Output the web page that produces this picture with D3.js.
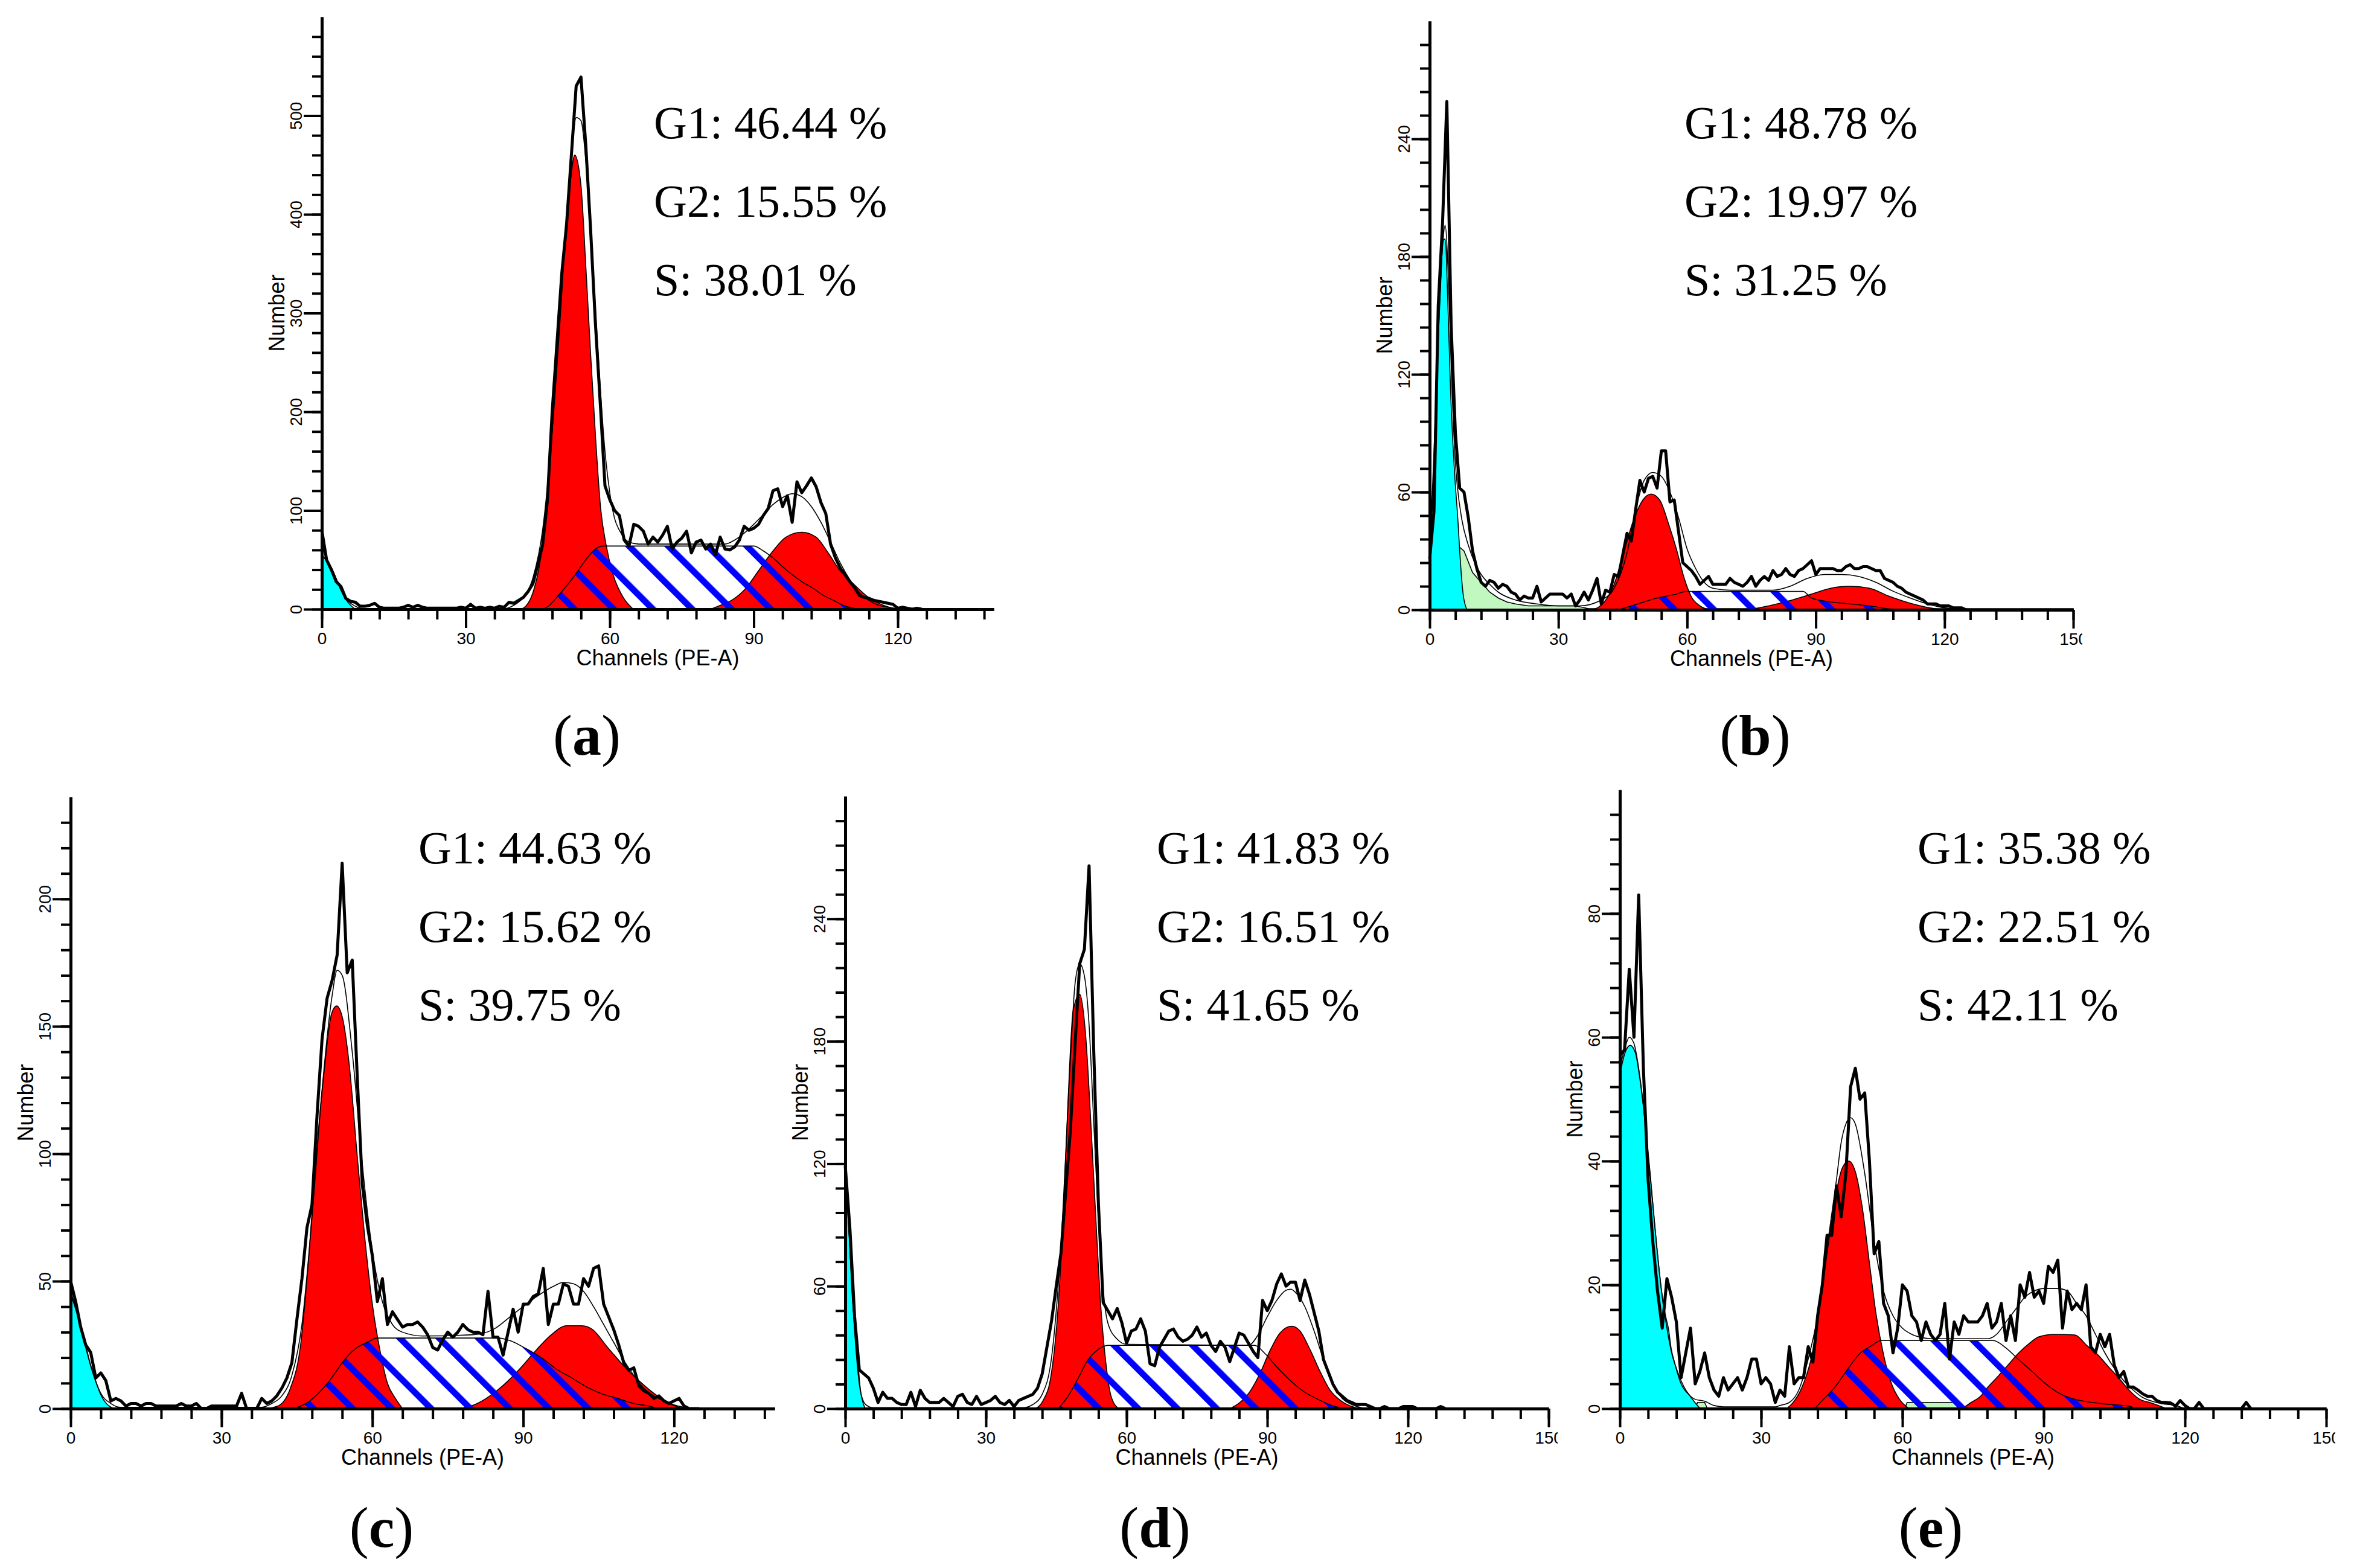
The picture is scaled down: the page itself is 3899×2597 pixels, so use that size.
<!DOCTYPE html>
<html>
<head>
<meta charset="utf-8">
<script src="https://cdn.jsdelivr.net/npm/d3@7"></script>
<style>
  body { margin: 0; background: #fff; }
  svg { display: block; background: #fff; }
</style>
</head>
<body>
<div id="chart"></div>
<script>
// fitted percentages per panel
const panelIds = ["a", "b", "c", "d", "e"];
const g1Pct = ["46.44", "48.78", "44.63", "41.83", "35.38"];
const g2Pct = ["15.55", "19.97", "15.62", "16.51", "22.51"];
const sPct  = ["38.01", "31.25", "39.75", "41.65", "42.11"];

// raw histograms, one value per channel starting at channel 0
const rawA = [80,50,40,28,23,11,8,7,3,3, 4,6,2,1,1,1,1,2,4,2, 4,2,1,1,1,1,1,1,1,2, 1,5,1,2,1,2,1,3,2,7,
  6,9,12,18,26,45,65,110,200,270, 340,390,460,530,539,470,385,290,210,125, 111,100,95,70,64,86,84,79,66,73,
  68,75,84,61,68,72,79,57,68,70, 61,66,55,73,61,60,63,70,84,80, 82,86,95,102,120,122,104,115,88,129,
  118,125,133,124,108,97,66,52,42,35, 28,22,14,12,11,9,8,7,6,5, 1,2,1,0,1,0];
const rawB = [26,50,155,197,259,145,90,62,60,47, 30,21,14,12,15,14,11,13,12,9, 8,5,7,6,6,12,4,6,8,8,
  8,8,6,8,2,5,9,5,10,16, 3,10,9,18,17,28,39,35,51,66, 60,67,68,62,81,81,55,56,40,24,
  22,20,17,13,15,17,13,13,13,13, 16,14,13,12,14,17,12,15,17,15, 20,17,18,21,18,17,20,21,23,25,
  18,21,21,21,21,20,20,22,23,21, 21,22,22,21,20,20,16,15,14,12, 11,9,8,7,6,5,3,3,3,2, 2,2,1,1,1,0];
const rawC = [50,42,32,25,22,12,14,11,3,4, 3,1,2,2,1,2,2,1,1,1, 1,1,2,1,1,2,0,0,1,1, 1,1,1,1,6,0,0,0,4,2,
  3,5,8,12,18,35,51,71,80,115, 145,161,168,178,214,171,176,130,88,72, 60,42,51,33,38,35,32,33,33,34,
  32,29,24,23,27,30,28,30,33,31, 30,30,29,46,28,28,21,30,39,30, 41,41,44,45,55,33,41,41,49,48,
  41,41,51,48,55,56,41,36,31,25, 18,15,16,9,7,6,4,5,3,2, 3,4,1,0,0,0];
const rawD = [119,88,45,19,17,15,10,3,8,5, 5,3,2,2,8,1,9,5,3,3, 3,5,3,1,6,7,3,2,6,2, 3,4,6,3,2,4,1,4,5,6,
  7,10,17,30,43,60,76,106,136,178, 218,225,266,175,100,52,48,44,49,42, 32,38,39,44,38,22,21,30,34,38,
  39,35,33,34,36,40,35,37,31,28, 33,30,23,30,37,36,32,28,25,53, 48,53,61,66,60,62,62,53,63,56,
  47,38,24,18,12,8,6,4,3,2, 2,2,1,0,0,1,0,0,0,1, 1,1,0,0,0,0,0,1,0];
const rawE = [57,58,71,60,83,55,37,27,19,13, 21,18,14,5,9,13,4,6,9,5, 3,2,5,3,4,5,3,5,8,8, 4,5,4,1,3,2,10,4,5,5,
  10,7.5,15,20,28,28,36,31,38,52, 55,50,51,40,25,27,17,15,9,13, 20,19,15,14,11,14,12,11,12,17,
  8,14,12,15,14,14,14,15,17,13, 14,17,11,15,11,20,18,22,18,19, 17,23,22,24,13,19,16,17,16,20,
  10,9,12,10,12,7,5,6,3.5,3.5, 3,2.4,2,2,1.3,1,1,0.9,0.4,1.3, 0.5,0,0,1,0,0,0,0,0,0, 0,0,0,1,0];

// total model fit [channel, count]
const fitA = [[0,55],[1,50],[2,42],[3,31],[4,20],[5,11],[6,6],[7,3],[8,1],[10,0.5],[38,0.5],[40,4],[42,12],[44,32],[46,80],[48,180],[50,320],[51,400],[52,460],[53,498],[54,495],[55,455],[56,390],[57,305],[58,225],[59,160],[60,118],[61,92],[62,80],[63,72],[64,68],[66,66],[84,66],[86,70],[88,77],[90,86],[92,96],[94,106],[96,113],[98,117],[100,114],[102,104],[104,88],[106,68],[108,47],[110,30],[112,17],[114,9],[116,4],[118,2],[120,0.5],[122,0]];
const fitB = [[0,28],[1,80],[2,140],[3,185],[3.6,196],[4.5,160],[5,125],[6,75],[6.4,64],[7.5,46],[9,33],[10.5,24],[12,18],[14,13],[16,9],[20,5],[25,3],[30,2],[35,2],[40,5],[43,11],[46,29],[48,51],[50,66],[52,70],[54,68],[56,60],[58,47],[60,31],[62,21],[64,14],[66,11],[70,10],[80,10],[84,12],[88,16],[92,18],[96,18],[100,17],[104,14],[108,9.5],[112,6],[116,3],[120,1],[124,0.5]];
const fitC = [[0,46],[2,33],[4,17],[6,6],[8,2],[10,0.5],[38,0.5],[40,2],[42,5],[44,13],[46,33],[48,75],[50,125],[52,162],[53,172],[54,170],[56,140],[58,96],[60,62],[62,42],[64,33],[66,30],[70,28.5],[80,29],[84,31],[88,37],[92,43],[96,48],[98,49.5],[100,49],[102,46],[104,40],[106,33],[108,26],[110,19],[112,13],[114,8],[116,5],[118,3],[120,1.5],[122,0.5],[124,0]];
const fitD = [[0,118],[1,78],[2,38],[3,12],[4,3],[5,1],[6,0.5],[38,0.5],[40,2],[42,7],[44,25],[46,80],[48,170],[49,208],[50,218],[51,212],[52,188],[53,140],[54,92],[55,58],[56,42],[58,34],[60,31.5],[86,31],[88,36],[90,45],[92,53],[94,58],[95,58.5],[96,57],[98,50],[100,38],[102,24],[104,12],[106,5],[108,2],[110,0.5],[112,0]];
const fitE = [[0,55],[1,58],[2,60],[3,59],[4,55],[5,49],[6,41],[7,33],[8,25],[9,18],[10,13],[11,9],[12,6.5],[13,4.5],[14,3],[15,2],[16,1.5],[18,1.2],[20,0.5],[22,0.3],[33,0.3],[34,0.5],[36,1],[38,3],[40,8],[42,15],[44,26],[46,37],[47,43],[48,46],[49,47],[50,46],[52,38],[54,27],[56,19],[58,15],[60,13],[62,12],[64,11.5],[66,11.3],[78,11.3],[80,12],[82,14],[84,16],[86,18],[88,19],[90,19.4],[93,19.4],[95,19],[97,17],[99,15],[101,12],[103,9],[105,6.5],[107,4.5],[109,3],[111,1.8],[113,1.2],[115,0.8],[118,0.5],[120,0]];

// debris peak (cyan)
const debrisA = [[0,52],[1,50],[2,42],[3,31],[4,19],[5,10],[6,4],[7,0]];
const debrisB = [[0,27],[0.8,62],[1.6,118],[2.5,163],[3.1,188],[3.6,189],[4.3,152],[4.9,110],[5.8,70],[6.6,45],[7,30],[7.8,8],[8.7,0]];
const debrisC = [[0,45],[1,39],[2,32],[3,24],[4.1,16],[5.1,10],[6.1,5],[7.1,2],[8.6,0]];
const debrisD = [[0,117],[0.5,100],[1,78],[1.5,55],[2.1,39],[2.8,20],[3.2,10],[3.9,2],[4.3,0]];
const debrisE = [[0,54],[1.1,57.5],[2.2,58.7],[3.3,57.5],[4.3,53],[5.4,46],[6.5,37.5],[7.6,28],[8.7,20],[9.7,15],[10.3,13],[10.9,9.7],[11.6,7.5],[12.9,4.2],[15,1.95],[16.7,0.3],[17.1,0]];

// background debris (light green), only in b and e
const bgB = [[6.9,0],[6.9,32],[8,30],[10,19],[12,14],[14,9],[16,6],[18,4],[20,3],[23,2],[34,2],[37,0.6],[150,0.6],[150,0]];
const bgE = [[16,0],[16.5,1],[18,1],[18.6,0],[60.5,0],[61,1],[71,1],[72,0]];

// G1 peaks
const g1A = [[41.5,0],[42.5,3],[44,17],[45.6,52],[47.2,124],[48.75,236],[50.3,348],[51.9,438],[52.7,460],[54,429],[55,348],[56,259],[57.1,169],[58.1,102],[59.2,66],[60.7,35],[62.8,12],[64.9,0]];
const g1B = [[37.9,0],[40.7,4],[43,13],[45.2,29],[47.4,45],[49.7,56],[51.6,59],[53.6,56],[55.8,43],[57.5,31],[59.2,17],[60.9,7],[63,2],[65,0]];
const g1C = [[38.7,0],[41.2,1],[43.7,8],[45.8,26],[47.3,58],[48.8,98],[50.4,132],[51.9,155],[52.9,158],[54.1,153],[55.4,135],[57,99],[58.5,67],[60,41],[61.5,23],[63,10],[64.6,4],[66,0]];
const g1D = [[40.5,0],[42.2,4],[43.8,15],[45.4,50],[46.5,95],[47.5,150],[48.6,195],[50,203],[51.3,182],[52.4,139],[53.4,95],[54.5,50],[55.6,22],[56.7,6],[58.3,0]];
const g1E = [[35.4,0],[36.7,0.9],[38.7,3.5],[40.8,8.7],[42.5,16.8],[44.1,25.7],[45.7,33.9],[47.3,39],[48.6,40],[50,38.3],[51.5,32.4],[53,23.5],[54.4,15.3],[56,8.7],[57.6,4.2],[59.3,1.6],[61.4,0]];

// G2 peaks
const g2A = [[81,0],[82.6,3],[85.7,10],[88.3,21],[91,39],[94,59],[96.7,73],[100,78],[103,73],[105.5,57],[108,39],[110.7,26],[113.9,12],[117,4],[120,0]];
const g2B = [[74,0],[79,2],[84.5,5],[89,8],[93.5,11],[98,12],[102.5,11],[107,7],[112.6,3],[118,0.5],[120.5,0]];
const g2C = [[77.3,0],[80.4,1.6],[83.4,5],[86.5,10],[89.5,16],[92.6,23],[95.6,29],[98.6,32.5],[101.7,32.5],[103.8,31],[106.8,24],[109.9,17],[113,11],[116,6],[119,2],[122,0]];
const g2D = [[82,0],[84,2.7],[86.2,8],[88.4,17],[90.5,28],[92.7,37],[95.2,40.4],[97,38],[99.1,29],[101.3,18],[103.4,9],[105.6,4],[108.8,0.5],[110.4,0]];
const g2E = [[72.8,0],[74.4,0.9],[76.6,2],[78.2,3.5],[80.4,5.3],[82.6,7.2],[84.7,9],[86.9,10.5],[89,11.6],[92.3,12],[96.6,11.9],[99.3,10.1],[101.5,8.7],[103.7,6.8],[105.9,5],[108,3.1],[110.2,1.6],[112.9,0.9],[116.1,0]];

// S phase
const sA = [[46,0],[47.2,3],[49.3,14],[51.4,26],[53.4,39],[55,50],[57,61],[58.6,64],[90,64],[92,59],[94,52],[96,43],[98,35],[100,28],[102.4,21],[104.5,14],[106.6,9],[108.6,4],[110.7,1],[112,0]];
const sB = [[44,0],[48.5,3],[53,6],[57.5,8],[59.8,9.4],[87,9.4],[89,6],[93.5,4],[98,3],[102.5,2],[107,0.5],[109,0]];
const sC = [[44.3,0],[46.8,2],[49.3,6],[51.9,12],[54.4,19],[57,24],[59,26],[61,27.7],[85,27.7],[87.5,26.6],[90.5,23.6],[93.6,20],[96.6,15.5],[99.7,12],[102.7,8.4],[105.8,5.7],[108.8,4],[111.9,2],[115,1],[117,0]];
const sD = [[45.4,0],[47.5,6],[49.7,15],[51.8,24],[53.4,28],[55,30.4],[56,31],[87.3,31],[89.5,27],[92.2,20],[94.8,14],[98,8],[101.3,4],[104.5,1],[106.7,0]];
const sE = [[41.4,0],[43,1.3],[45.7,3.5],[48.4,6.4],[51.1,9],[53.3,10.1],[55.5,11],[79.3,11],[82,9.8],[84.7,7.9],[87.4,6.1],[90.1,4.2],[92.8,2.7],[96.1,1.6],[99.3,1.1],[103.7,0.7],[108,0.4],[109.6,0]];

// axis ranges per panel
const xMaxes = [140, 150, 140, 150, 150];
const yMaxes = [600, 300, 240, 300, 100];
const yMajors = [100, 60, 50, 60, 20];
const yMinors = [20, 12, 10, 12, 4];

// page layout (pixels)
const layout = [
  { x0: 533,  x1: 1646, yTop: 28,   yBot: 1009, tx: 1083, ty: 229,  lx: 972,  ly: 1250 },
  { x0: 2368, x1: 3434, yTop: 35,   yBot: 1010, tx: 2790, ty: 229,  lx: 2907, ly: 1250 },
  { x0: 117,  x1: 1283, yTop: 1320, yBot: 2333, tx: 693,  ty: 1430, lx: 632,  ly: 2562 },
  { x0: 1400, x1: 2565, yTop: 1319, yBot: 2333, tx: 1916, ty: 1430, lx: 1913, ly: 2562 },
  { x0: 2683, x1: 3853, yTop: 1308, yBot: 2333, tx: 3176, ty: 1430, lx: 3198, ly: 2562 }
];

const panels = panelIds.map((id, i) => ({
  id, i,
  raw: [rawA, rawB, rawC, rawD, rawE][i],
  fit: [fitA, fitB, fitC, fitD, fitE][i],
  debris: [debrisA, debrisB, debrisC, debrisD, debrisE][i],
  bg: [null, bgB, null, null, bgE][i],
  g1: [g1A, g1B, g1C, g1D, g1E][i],
  g2: [g2A, g2B, g2C, g2D, g2E][i],
  s: [sA, sB, sC, sD, sE][i]
}));

const sans = "'Liberation Sans', Arial, sans-serif";
const serif = "'Liberation Serif', 'Times New Roman', serif";

const svg = d3.select("#chart")
  .append("svg")
  .attr("width", 3899)
  .attr("height", 2597);

const defs = svg.append("defs");

// blue diagonal hatch for S phase
defs.append("pattern")
  .attr("id", "hatch")
  .attr("patternUnits", "userSpaceOnUse")
  .attr("width", 46)
  .attr("height", 46)
  .attr("patternTransform", "rotate(-45)")
  .append("rect")
  .attr("width", 10.5)
  .attr("height", 46)
  .attr("fill", "#0000ff");

panels.forEach(drawPanel);

function drawPanel(p) {
  const L = layout[p.i];
  const xMax = xMaxes[p.i], yMax = yMaxes[p.i];

  const x = d3.scaleLinear().domain([0, xMax]).range([L.x0, L.x1]);
  const y = d3.scaleLinear().domain([0, yMax]).range([L.yBot, L.yTop]);

  const g = svg.append("g").attr("class", "panel-" + p.id);

  const smooth = d3.area()
    .x(d => x(d[0])).y0(y(0)).y1(d => y(d[1]))
    .curve(d3.curveMonotoneX);
  const flat = d3.area()
    .x(d => x(d[0])).y0(y(0)).y1(d => y(d[1]));

  // S phase white base
  g.append("path").attr("d", smooth(p.s)).attr("fill", "#fff");

  if (p.bg) {
    g.append("path").attr("d", flat(p.bg))
      .attr("fill", "#c0f8c0").attr("stroke", "#000").attr("stroke-width", 1.6);
  }

  g.append("path").attr("d", smooth(p.debris))
    .attr("fill", "#00ffff").attr("stroke", "#000").attr("stroke-width", 1.6);

  [p.g1, p.g2].forEach(peak => {
    g.append("path").attr("d", smooth(peak))
      .attr("fill", "#ff0000").attr("stroke", "#000").attr("stroke-width", 1.6);
  });

  // hatch over S phase
  g.append("path").attr("d", smooth(p.s))
    .attr("fill", "url(#hatch)").attr("stroke", "#000").attr("stroke-width", 1.6);

  // model fit
  g.append("path")
    .attr("d", d3.line().x(d => x(d[0])).y(d => y(d[1])).curve(d3.curveMonotoneX)(p.fit))
    .attr("fill", "none").attr("stroke", "#000").attr("stroke-width", 1.6);

  // raw histogram
  g.append("path")
    .attr("d", d3.line().x((d, i) => x(i)).y(d => y(d))(p.raw))
    .attr("fill", "none").attr("stroke", "#000").attr("stroke-width", 5)
    .attr("stroke-linejoin", "round");

  // x axis
  const xMinorAxis = d3.axisBottom(x)
    .tickValues(d3.range(0, xMax + 0.01, 6))
    .tickSize(17).tickSizeOuter(0).tickFormat("");
  const xMajorAxis = d3.axisBottom(x)
    .tickValues(d3.range(0, xMax + 0.01, 30))
    .tickSize(31).tickSizeOuter(0).tickFormat(d3.format("d"));

  defs.append("clipPath").attr("id", "clipx-" + p.id)
    .append("rect")
    .attr("x", L.x0 - 100).attr("y", -60)
    .attr("width", L.x1 + 15 - (L.x0 - 100)).attr("height", 200);

  const gxm = g.append("g").attr("transform", `translate(0,${L.yBot})`).call(xMinorAxis);
  const gx = g.append("g").attr("transform", `translate(0,${L.yBot})`)
    .attr("clip-path", `url(#clipx-${p.id})`).call(xMajorAxis);

  // y axis
  const yMinorAxis = d3.axisLeft(y)
    .tickValues(d3.range(0, yMax - 0.01, yMinors[p.i]))
    .tickSize(16).tickSizeOuter(0).tickFormat("");
  const yMajorAxis = d3.axisLeft(y)
    .tickValues(d3.range(0, yMax - 0.01, yMajors[p.i]))
    .tickSize(30).tickSizeOuter(0).tickFormat(d3.format("d"));

  const gym = g.append("g").attr("transform", `translate(${L.x0},0)`).call(yMinorAxis);
  const gy = g.append("g").attr("transform", `translate(${L.x0},0)`).call(yMajorAxis);

  [gxm, gx, gym, gy].forEach(ax => {
    ax.attr("font-family", sans).attr("font-size", 28);
    ax.select(".domain").attr("stroke", "#000").attr("stroke-width", 5);
    ax.selectAll(".tick line").attr("stroke", "#000").attr("stroke-width", 4);
    ax.selectAll(".tick text").attr("fill", "#000");
  });

  gx.selectAll(".tick text").attr("y", 58).attr("dy", 0);
  gy.selectAll(".tick text")
    .attr("transform", "rotate(-90)")
    .attr("x", 0).attr("y", -33).attr("dy", 0)
    .attr("text-anchor", "middle");

  // axis titles
  g.append("text")
    .attr("x", (L.x0 + L.x1) / 2).attr("y", L.yBot + 93)
    .attr("text-anchor", "middle")
    .attr("font-family", sans).attr("font-size", 36)
    .text("Channels (PE-A)");

  g.append("text")
    .attr("transform", `translate(${L.x0 - 62},${(L.yTop + L.yBot) / 2}) rotate(-90)`)
    .attr("text-anchor", "middle")
    .attr("font-family", sans).attr("font-size", 36)
    .text("Number");

  // phase percentages
  const stats = [
    "G1: " + g1Pct[p.i] + " %",
    "G2: " + g2Pct[p.i] + " %",
    "S: " + sPct[p.i] + " %"
  ];
  g.selectAll(".stat")
    .data(stats)
    .enter()
    .append("text")
    .attr("class", "stat")
    .attr("x", L.tx)
    .attr("y", (d, k) => L.ty + k * 130)
    .attr("font-family", serif).attr("font-size", 76)
    .text(d => d);

  // panel letter
  const lab = g.append("text")
    .attr("x", L.lx).attr("y", L.ly)
    .attr("text-anchor", "middle")
    .attr("font-family", serif).attr("font-size", 96);
  lab.append("tspan").text("(");
  lab.append("tspan").attr("font-weight", "bold").text(p.id);
  lab.append("tspan").text(")");
}
</script>
</body>
</html>
